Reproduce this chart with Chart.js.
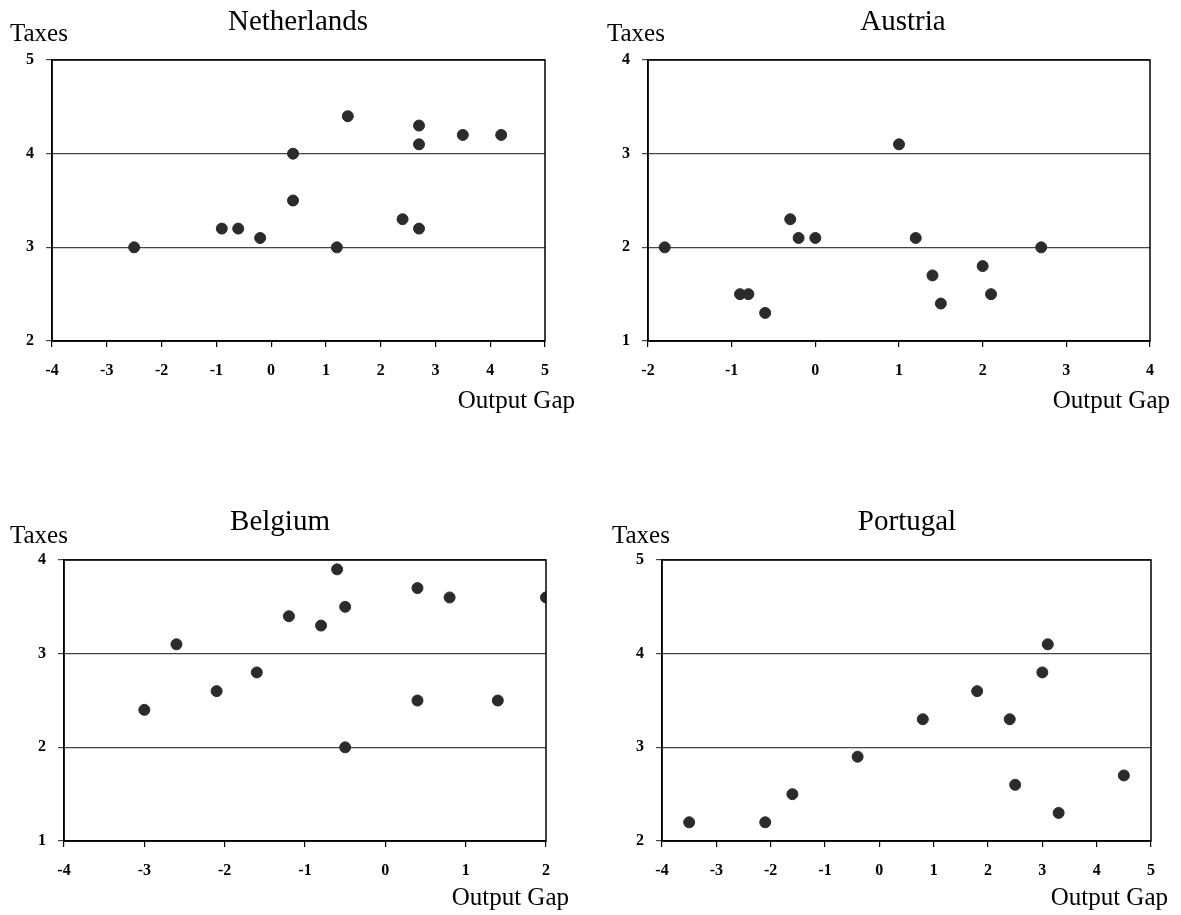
<!DOCTYPE html>
<html>
<head>
<meta charset="utf-8">
<script src="https://cdn.jsdelivr.net/npm/chart.js@4"></script>
<style>
  body { margin:0; background:#fff; width:1181px; height:915px; position:relative; overflow:hidden; font-family:"Liberation Serif", serif; }
  .box { position:absolute; }
  .txt { position:absolute; line-height:1; white-space:nowrap; color:#000; }
</style>
</head>
<body>
<script>
// output gap (x) and taxes (y) for each country
const nlGap = [-2.5, -0.9, -0.6, -0.2, 0.4, 0.4, 1.2, 1.4, 2.4, 2.7, 2.7, 2.7, 3.5, 4.2]
const nlTax = [3.0, 3.2, 3.2, 3.1, 4.0, 3.5, 3.0, 4.4, 3.3, 4.3, 4.1, 3.2, 4.2, 4.2]

const atGap = [-1.8, -0.9, -0.8, -0.6, -0.3, -0.2, 0.0, 1.0, 1.2, 1.4, 1.5, 2.0, 2.1, 2.7]
const atTax = [2.0, 1.5, 1.5, 1.3, 2.3, 2.1, 2.1, 3.1, 2.1, 1.7, 1.4, 1.8, 1.5, 2.0]

const beGap = [-3.0, -2.6, -2.1, -1.6, -1.2, -0.8, -0.6, -0.5, -0.5, 0.4, 0.4, 0.8, 1.4, 2.0]
const beTax = [2.4, 3.1, 2.6, 2.8, 3.4, 3.3, 3.9, 3.5, 2.0, 3.7, 2.5, 3.6, 2.5, 3.6]

const ptGap = [-3.5, -2.1, -1.6, -0.4, 0.8, 1.8, 2.4, 2.5, 3.0, 3.1, 3.3, 4.5]
const ptTax = [2.2, 2.2, 2.5, 2.9, 3.3, 3.6, 3.3, 2.6, 3.8, 4.1, 2.3, 2.7]

// axis ranges [min, max]
const nlXRange = [-4, 5], nlYRange = [2, 5]
const atXRange = [-2, 4], atYRange = [1, 4]
const beXRange = [-4, 2], beYRange = [1, 4]
const ptXRange = [-4, 5], ptYRange = [2, 5]

const panels = [
  {name:"Netherlands", gap:nlGap, tax:nlTax, xr:nlXRange, yr:nlYRange,
   box:[0,0,590,450], plot:[52,60,545,341], title:[298,20], taxes:[10,32], out:[575,399]},
  {name:"Austria", gap:atGap, tax:atTax, xr:atXRange, yr:atYRange,
   box:[590,0,591,450], plot:[648,60,1150,341], title:[903,20], taxes:[607,32], out:[1170,399]},
  {name:"Belgium", gap:beGap, tax:beTax, xr:beXRange, yr:beYRange,
   box:[0,450,590,465], plot:[64,560,546,841], title:[280,520], taxes:[10,534], out:[569,896]},
  {name:"Portugal", gap:ptGap, tax:ptTax, xr:ptXRange, yr:ptYRange,
   box:[590,450,591,465], plot:[662,560,1151,841], title:[907,520], taxes:[612,534], out:[1168,896]}
]

const X_AXIS_H = 45

const frame = {
  id: 'frame',
  afterDraw(chart) {
    const a = chart.chartArea, ctx = chart.ctx
    ctx.save()
    ctx.strokeStyle = '#000'
    ctx.lineWidth = 1.5
    ctx.strokeRect(a.left, a.top, a.right - a.left, a.bottom - a.top)
    ctx.restore()
  }
}

function addText(str, x, y, size, align) {
  const d = document.createElement('div')
  d.className = 'txt'
  d.textContent = str
  d.style.fontSize = size + 'px'
  d.style.left = x + 'px'
  d.style.top = (y - size / 2) + 'px'
  if (align == 'center') d.style.transform = 'translateX(-50%)'
  if (align == 'right') d.style.transform = 'translateX(-100%)'
  document.body.appendChild(d)
}

panels.forEach((p, i) => {
  const [bx, by, bw, bh] = p.box
  const [l, t, r, b] = p.plot
  const div = document.createElement('div')
  div.className = 'box'
  div.style.left = bx + 'px'
  div.style.top = by + 'px'
  div.style.width = bw + 'px'
  div.style.height = bh + 'px'
  const cv = document.createElement('canvas')
  div.appendChild(cv)
  document.body.appendChild(div)

  const pts = p.gap.map((g, k) => ({x: g, y: p.tax[k]}))
  const tickFont = {family: "Liberation Serif", size: 16, weight: 'bold'}

  new Chart(cv, {
    type: 'scatter',
    data: {
      datasets: [{
        data: pts,
        backgroundColor: '#2b2b2b',
        borderColor: '#2b2b2b',
        pointRadius: 5.5,
        pointHoverRadius: 5.5
      }]
    },
    options: {
      responsive: true,
      maintainAspectRatio: false,
      animation: false,
      events: [],
      layout: {
        padding: {left: 0, top: t - by, right: bx + bw - r, bottom: by + bh - b - X_AXIS_H}
      },
      plugins: {legend: {display: false}, tooltip: {enabled: false}},
      scales: {
        x: {
          type: 'linear',
          min: p.xr[0], max: p.xr[1],
          afterFit: s => { s.height = X_AXIS_H },
          ticks: {stepSize: 1, color: '#000', font: tickFont, padding: 14, maxRotation: 0},
          grid: {drawOnChartArea: false, drawTicks: true, tickLength: 6, color: '#000', lineWidth: 1.2},
          border: {color: '#000', width: 1.5}
        },
        y: {
          type: 'linear',
          min: p.yr[0], max: p.yr[1],
          afterFit: s => { s.width = l - bx },
          ticks: {stepSize: 1, color: '#000', font: tickFont, padding: 12},
          grid: {color: '#444', lineWidth: 1.2, tickLength: 6},
          border: {color: '#000', width: 1.5}
        }
      }
    },
    plugins: [frame]
  })

  addText(p.name, p.title[0], p.title[1], 29, 'center')
  addText("Taxes", p.taxes[0], p.taxes[1], 25, 'left')
  addText("Output Gap", p.out[0], p.out[1], 25, 'right')
})
</script>
</body>
</html>
